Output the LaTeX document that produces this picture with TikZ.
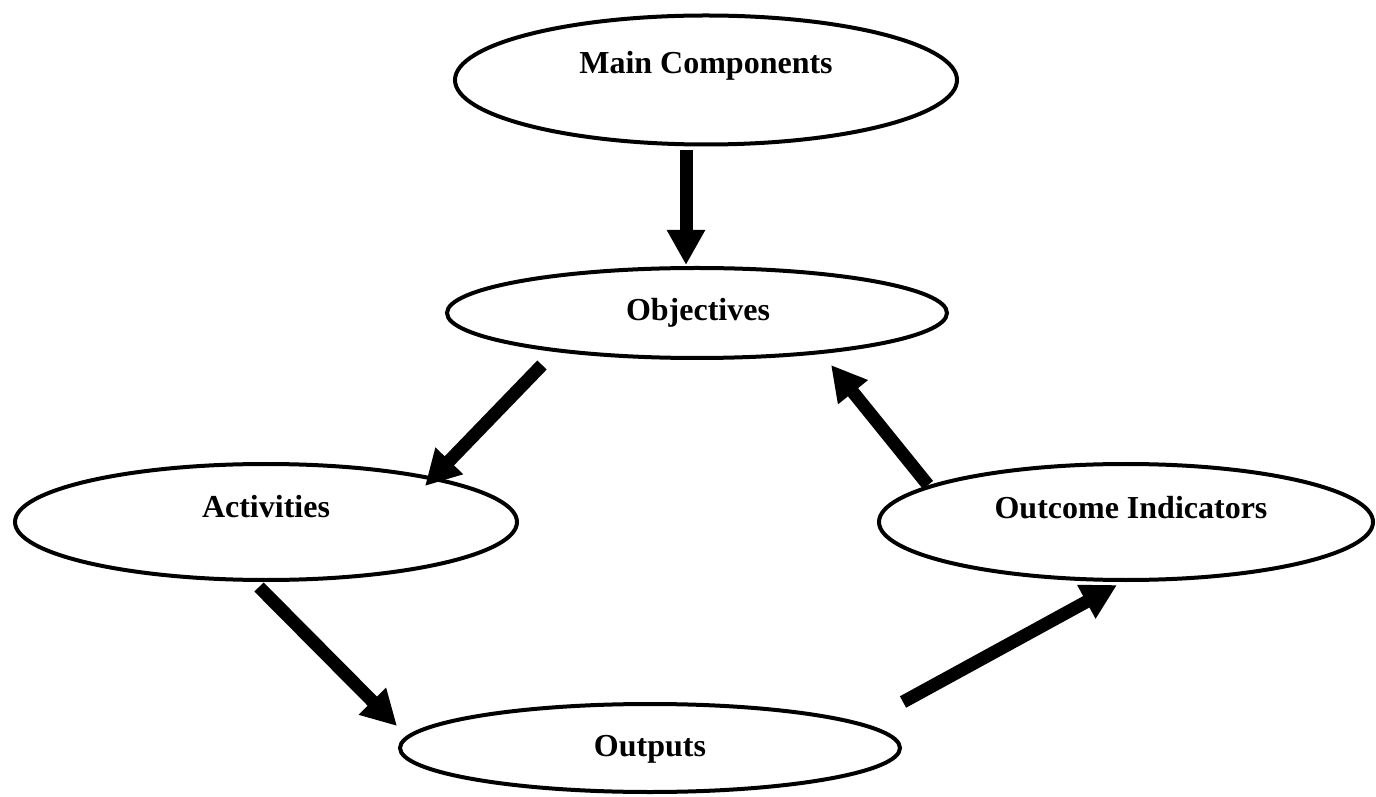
\documentclass[tikz,border=0pt]{standalone}
\usepackage{fontspec}
\setmainfont{Liberation Serif}
\usetikzlibrary{arrows.meta,shapes.geometric,calc}
\begin{document}
\begin{tikzpicture}[x=1pt,y=1pt,
  oval/.style={ellipse,draw=black,line width=4pt,fill=white,inner sep=0pt},
  lbl/.style={anchor=base,font=\fontsize{32}{38}\selectfont\bfseries,inner sep=0pt},
  arr/.style={line width=13pt,-{Triangle[length=35pt,width=36pt]}}]
\useasboundingbox (0,0) rectangle (1376,796);
% ellipses
\node[oval,minimum width=502pt,minimum height=129pt] (mc) at (706,716) {};
\node[oval,minimum width=500pt,minimum height=90pt] (obj) at (697,483) {};
\node[oval,minimum width=502pt,minimum height=116pt] (act) at (266,274) {};
\node[oval,minimum width=494pt,minimum height=116pt] (oi) at (1126,274) {};
\node[oval,minimum width=500pt,minimum height=88pt] (out) at (650,48) {};
% labels
\node[lbl] (mct) at (706,722) {Main Components};
\node[lbl] (objt) at (698,475) {Objectives};
\node[lbl] (actt) at (266,278) {Activities};
\node[lbl] (oit) at (1131,277) {Outcome Indicators};
\node[lbl] (outt) at (650,40) {Outputs};
% arrows
\draw[arr] ($(mc.center)+(-20,-70)$) -- ($(obj.center)+(-11,48)$);
\draw[arr] ($(obj.center)+(-155,-52)$) -- ($(act.center)+(159,36)$);
\draw[arr] ($(act.center)+(-7,-65)$) -- ($(out.center)+(-253,22)$);
\draw[arr] ($(out.center)+(253,46)$) -- ($(oi.center)+(-9,-63)$);
\draw[arr] ($(oi.center)+(-198,37)$) -- ($(obj.center)+(134,-52)$);
\end{tikzpicture}
\end{document}
